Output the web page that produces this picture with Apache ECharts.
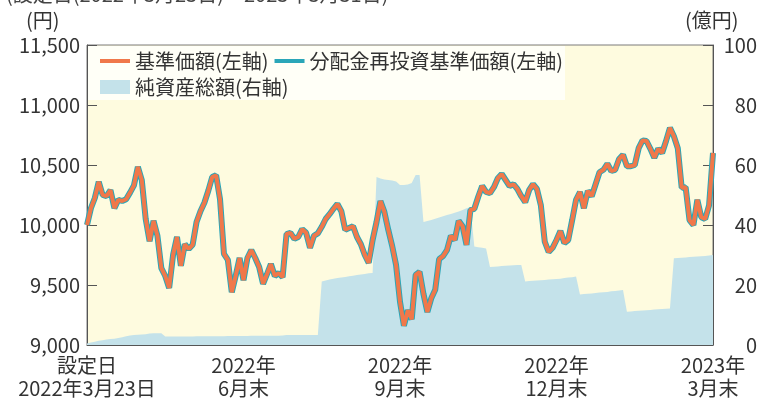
<!DOCTYPE html>
<html><head><meta charset="utf-8">
<script src="https://cdn.jsdelivr.net/npm/echarts/dist/echarts.min.js"></script>
<style>html,body{margin:0;padding:0;background:#fff}#c{width:762px;height:406px}</style>
</head><body><div id="c"></div>
<script>
const xTickLabels = ['設定日\n2022年3月23日', '2022年\n6月末', '2022年\n9月末', '2022年\n12月末', '2023年\n3月末'];
const stepsPerQuarter = 40;
const leftTicks = [9000, 9500, 10000, 10500, 11000, 11500];
const rightTicks = [0, 20, 40, 60, 80, 100];
const seriesNames = ['基準価額(左軸)', '分配金再投資基準価額(左軸)', '純資産総額(右軸)'];

// 基準価額 (円)
const nav = [
10000,10140,10225,10360,10250,10240,10290,10140,10210,10200,
10215,10270,10330,10485,10375,10050,9865,10035,9910,9640,
9575,9475,9750,9900,9660,9840,9800,9835,10025,10115,
10185,10285,10400,10415,10215,9760,9710,9440,9575,9725,
9540,9725,9790,9725,9650,9510,9590,9675,9575,9600,
9565,9925,9935,9885,9900,9965,9935,9810,9910,9930,
9985,10050,10090,10135,10175,10115,9960,9975,9990,9900,
9840,9750,9685,9875,10025,10200,10110,9960,9825,9665,
9360,9160,9290,9215,9585,9610,9425,9275,9390,9460,
9715,9740,9790,9910,9875,10035,9990,9835,10125,10135,
10235,10325,10275,10265,10315,10390,10425,10375,10325,10340,
10300,10240,10190,10290,10340,10300,10165,9860,9775,9810,
9875,9950,9850,9875,10040,10210,10275,10140,10285,10240,
10340,10440,10460,10510,10450,10460,10550,10585,10490,10490,
10500,10640,10705,10700,10635,10560,10635,10600,10700,10810,
10740,10640,10310,10315,10040,10000,10210,10065,10050,10165,
10600
];
// 分配金再投資基準価額 (円) – no distributions, identical to nav
const navReinvested = nav.slice();
// 純資産総額 (億円)
const netAssets = [
0.5,0.8,1.1,1.4,1.6,1.8,2.0,2.1,2.3,2.6,
2.9,3.2,3.3,3.4,3.5,3.6,3.8,3.9,3.9,3.9,
2.8,2.8,2.8,2.8,2.8,2.8,2.8,2.8,2.9,2.9,
2.9,2.9,2.9,2.9,2.9,2.9,3.0,3.0,3.0,3.0,
3.0,3.0,3.1,3.1,3.1,3.1,3.1,3.1,3.1,3.1,
3.2,3.3,3.3,3.3,3.3,3.3,3.3,3.3,3.3,3.3,
21.2,21.5,21.8,22.1,22.3,22.5,22.7,22.9,23.1,23.3,
23.5,23.7,23.9,24.0,56.0,55.5,55.2,55.0,54.8,54.5,
53.3,53.3,53.5,54.0,56.7,56.7,41.0,41.3,41.7,42.1,
42.5,42.9,43.3,43.7,44.1,44.5,45.0,45.6,46.0,32.8,
32.6,32.4,32.2,26.0,26.1,26.2,26.3,26.4,26.5,26.6,
26.7,26.7,21.2,21.3,21.4,21.5,21.6,21.7,21.8,21.9,
22.0,22.1,22.3,22.5,22.6,22.8,16.8,17.0,17.1,17.2,
17.3,17.5,17.6,17.7,17.9,18.0,18.2,18.3,11.1,11.2,
11.3,11.4,11.5,11.6,11.7,11.8,11.9,12.0,12.1,12.2,
28.9,29.0,29.1,29.2,29.3,29.4,29.5,29.6,29.7,29.8,
30.0
];
const categories = nav.map((_, i) => String(i));

const FONT = '"Noto Sans CJK JP", "Noto Sans", sans-serif';
const ORANGE = '#F0784A', TEAL = '#2AA6B8', AREA = '#C4E2EA';
const FS = 20;

const chart = echarts.init(document.getElementById('c'), null, {renderer: 'canvas'});
const isTick = (i) => i % stepsPerQuarter === 0;
const lineIcon = 'path://M0,0 L30,0 L30,4 L0,4 Z';

chart.setOption({
  animation: false,
  textStyle: {fontFamily: FONT},
  grid: {left: 87, right: 49, top: 45, bottom: 61, show: true, backgroundColor: '#FEFBDF', borderColor: '#7a7a7a', borderWidth: 1},
  graphic: [
    {type: 'rect', left: 88, top: 46, shape: {width: 477, height: 54}, style: {fill: '#FFFFF7'}, z: 1},
    {type: 'text', left: 6, top: -16, style: {text: '(設定日(2022年3月23日)～2023年3月31日)', font: FS + 'px ' + FONT, fill: '#444'}},
    {type: 'text', left: 26, top: 10, style: {text: '(円)', font: FS + 'px ' + FONT, fill: '#333'}},
    {type: 'text', left: 685, top: 10, style: {text: '(億円)', font: FS + 'px ' + FONT, fill: '#333'}}
  ],
  legend: [
    {data: [{name: seriesNames[0], icon: lineIcon}, {name: seriesNames[1], icon: lineIcon}],
     left: 100, top: 51, itemWidth: 30, itemHeight: 14, itemGap: 6, padding: 0, z: 5,
     textStyle: {fontSize: FS, color: '#333', fontFamily: FONT}},
    {data: [{name: seriesNames[2], icon: 'rect'}],
     left: 100, top: 77, itemWidth: 30, itemHeight: 14, padding: 0, z: 5,
     textStyle: {fontSize: FS, color: '#333', fontFamily: FONT}}
  ],
  xAxis: {
    type: 'category', data: categories, boundaryGap: false,
    axisLine: {lineStyle: {color: '#555'}},
    axisTick: {inside: true, length: 8, interval: (i) => isTick(i), lineStyle: {color: '#555'}},
    axisLabel: {interval: (i) => isTick(i), color: '#333', fontSize: FS, lineHeight: 23, margin: 9,
      formatter: (v, i) => xTickLabels[Math.round(i / stepsPerQuarter)] || ''},
    splitLine: {show: false}
  },
  yAxis: [
    {type: 'value', min: leftTicks[0], max: leftTicks[leftTicks.length - 1], interval: 500, position: 'left',
     axisLine: {show: true, lineStyle: {color: '#555'}},
     axisTick: {show: true, inside: true, length: 10, lineStyle: {color: '#555'}},
     axisLabel: {color: '#333', fontSize: FS, margin: 7, formatter: (v) => v.toLocaleString('en-US')},
     splitLine: {show: false}},
    {type: 'value', min: rightTicks[0], max: rightTicks[rightTicks.length - 1], interval: 20, position: 'right',
     axisLine: {show: true, lineStyle: {color: '#555'}},
     axisTick: {show: true, inside: true, length: 10, lineStyle: {color: '#555'}},
     axisLabel: {color: '#333', fontSize: FS, margin: 44, align: 'right'},
     splitLine: {show: false}}
  ],
  series: [
    {name: seriesNames[2], type: 'line', yAxisIndex: 1, data: netAssets, symbol: 'none',
     lineStyle: {width: 0}, itemStyle: {color: AREA}, areaStyle: {color: AREA, opacity: 1}, z: 2},
    {name: seriesNames[1], type: 'line', yAxisIndex: 0, data: navReinvested, symbol: 'none',
     lineStyle: {width: 6, color: TEAL}, itemStyle: {color: TEAL}, z: 3},
    {name: seriesNames[0], type: 'line', yAxisIndex: 0, data: nav, symbol: 'none',
     lineStyle: {width: 4, color: ORANGE}, itemStyle: {color: ORANGE}, z: 4}
  ]
});
</script></body></html>
